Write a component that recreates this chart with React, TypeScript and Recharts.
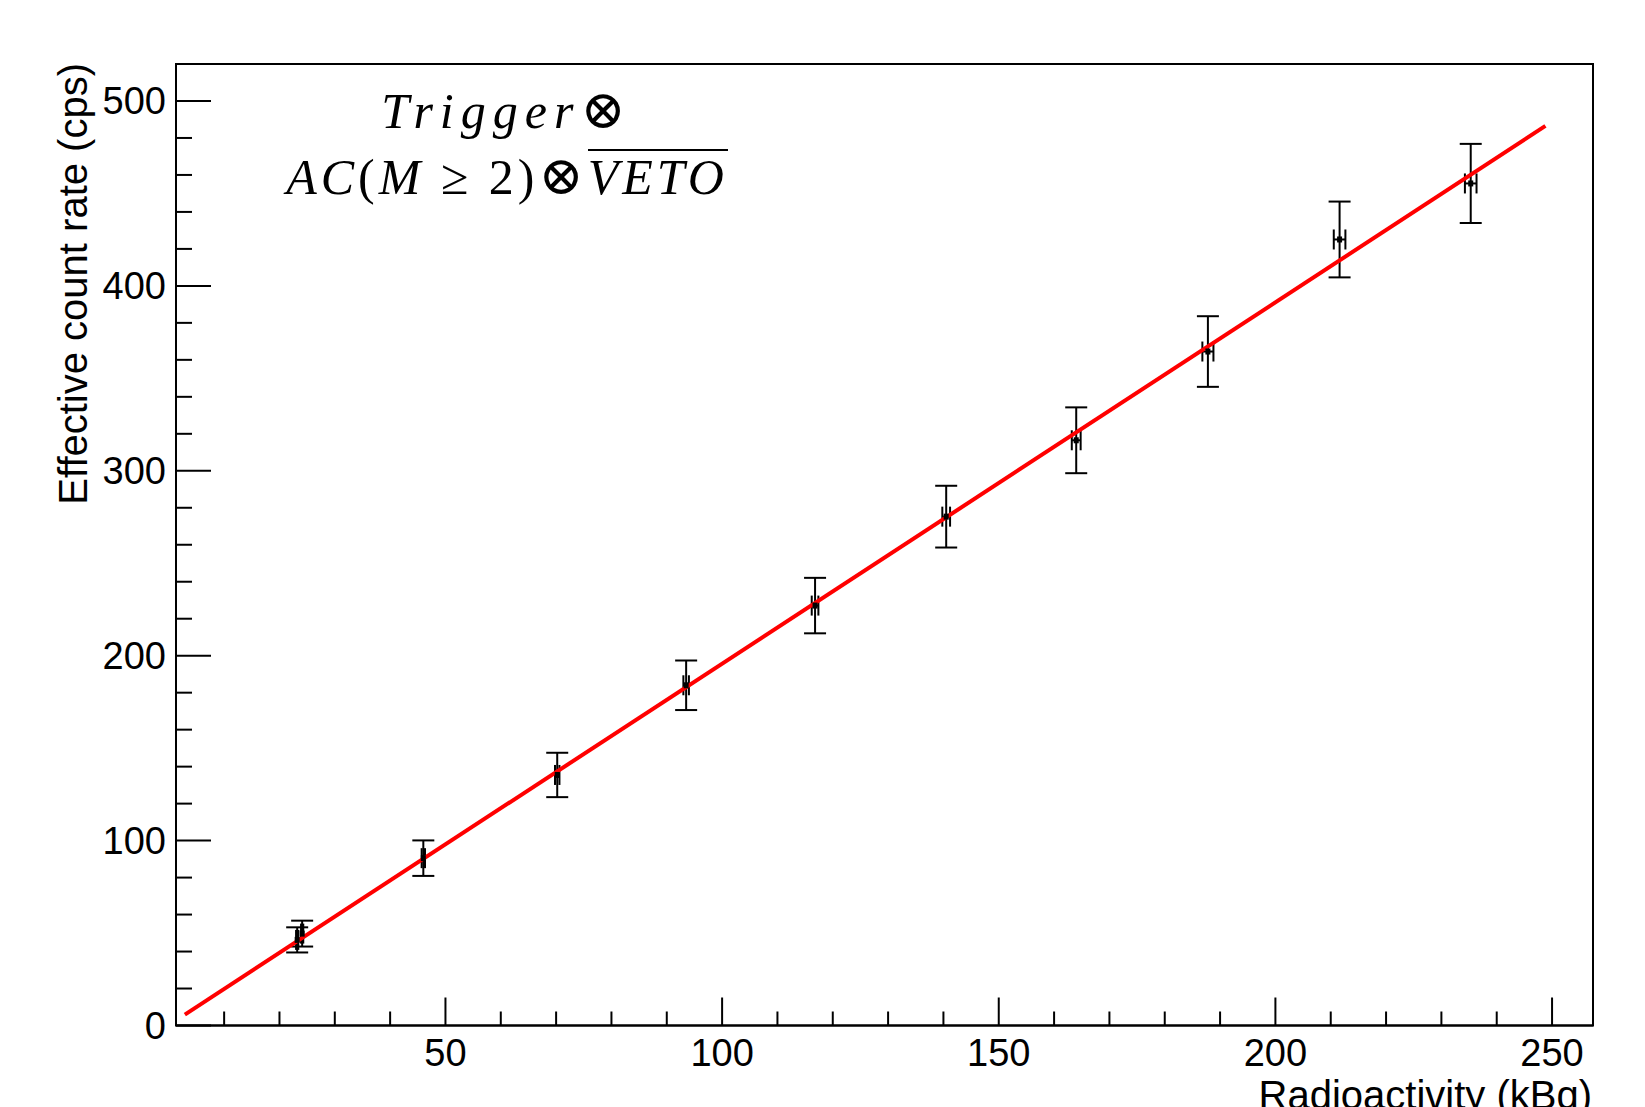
import React from "react";
import { ScatterChart, Scatter, XAxis, YAxis, ErrorBar, ReferenceArea, Label } from "recharts";

// measured points: activity (kBq), count rate (cps) and their errors
const activity = [23.2, 24.1, 46.0, 70.2, 93.5, 116.8, 140.5, 164.0, 187.8, 211.6, 235.3];
const rate = [46.3, 49.7, 90.5, 135.5, 184.0, 227.1, 275.2, 316.5, 364.5, 425.1, 455.4];
const rateErr = [6.8, 7.0, 9.6, 12.0, 13.4, 15.0, 16.7, 17.8, 19.1, 20.5, 21.4];
const activityErr = [0.2, 0.2, 0.3, 0.4, 0.5, 0.6, 0.7, 0.8, 1.0, 1.05, 1.05];

// linear fit end points
const fitX = [2.9, 248.8];
const fitY = [5.9, 486.5];

const xTicks = [10, 20, 30, 40, 50, 60, 70, 80, 90, 100, 110, 120, 130, 140, 150, 160, 170, 180, 190, 200, 210, 220, 230, 240, 250];
const xMajor = [50, 100, 150, 200, 250];
const yTicks = [0, 20, 40, 60, 80, 100, 120, 140, 160, 180, 200, 220, 240, 260, 280, 300, 320, 340, 360, 380, 400, 420, 440, 460, 480, 500];
const yMajor = [0, 100, 200, 300, 400, 500];

const points = activity.map((x, i) => ({ x, y: rate[i], ey: rateErr[i], ex: activityErr[i] }));
const fit = fitX.map((x, i) => ({ x, y: fitY[i] }));

const FONT = "'Liberation Sans', Arial, Helvetica, sans-serif";

function XTick(props: any) {
  const { x, y, payload } = props;
  const major = xMajor.includes(payload.value);
  return (
    <g>
      <line x1={x} y1={y} x2={x} y2={y - (major ? 28 : 14)} stroke="#000" strokeWidth={2} />
      {major && (
        <text x={x} y={y + 40} textAnchor="middle" fontSize={38} fontFamily={FONT} fill="#000">
          {payload.value}
        </text>
      )}
    </g>
  );
}

function YTick(props: any) {
  const { x, y, payload } = props;
  const major = yMajor.includes(payload.value);
  return (
    <g>
      <line x1={x} y1={y} x2={x + (major ? 35 : 16)} y2={y} stroke="#000" strokeWidth={2} />
      {major && (
        <text x={x - 10} y={y + 13.5} textAnchor="end" fontSize={38} fontFamily={FONT} fill="#000">
          {payload.value}
        </text>
      )}
    </g>
  );
}

const Dot = (props: any) => (
  <rect x={props.cx - 2.5} y={props.cy - 3} width={5} height={6} fill="#000" />
);

export default function App() {
  const mathStyle: React.CSSProperties = {
    fontFamily: "'Liberation Serif', 'DejaVu Serif', serif",
    fontStyle: "italic",
    fontSize: 50,
    lineHeight: "66px",
    color: "#000",
    whiteSpace: "nowrap",
  };
  const up: React.CSSProperties = { fontStyle: "normal" };
  return (
    <div style={{ position: "absolute", left: 0, top: 0, width: 1645, height: 1107, background: "#fff", overflow: "hidden" }}>
      <ScatterChart width={1645} height={1107} margin={{ top: 64, right: 52, bottom: 0, left: 0 }}>
        <XAxis
          type="number"
          dataKey="x"
          domain={[1.3, 257.4]}
          ticks={xTicks}
          allowDataOverflow
          height={81.5}
          tickLine={false}
          tickSize={0}
          tickMargin={0}
          tick={<XTick />}
          axisLine={{ stroke: "#000", strokeWidth: 2 }}
          interval={0}
        >
          <Label
            content={(p: any) => (
              <text
                x={p.viewBox.x + p.viewBox.width - 1}
                y={p.viewBox.y + 83}
                textAnchor="end"
                fontSize={40}
                fontFamily={FONT}
                fill="#000"
              >
                Radioactivity (kBq)
              </text>
            )}
          />
        </XAxis>
        <YAxis
          type="number"
          dataKey="y"
          domain={[0, 520]}
          ticks={yTicks}
          allowDataOverflow
          width={176}
          tickLine={false}
          tickSize={0}
          tickMargin={0}
          tick={<YTick />}
          axisLine={{ stroke: "#000", strokeWidth: 2 }}
          interval={0}
        >
          <Label
            content={() => (
              <text
                x={87}
                y={63}
                transform="rotate(-90, 87, 63)"
                textAnchor="end"
                fontSize={40}
                fontFamily={FONT}
                fill="#000"
              >
                Effective count rate (cps)
              </text>
            )}
          />
        </YAxis>
        <ReferenceArea x1={1.3} x2={257.4} y1={0} y2={520} fill="none" stroke="#000" strokeWidth={2} ifOverflow="visible" />
        <Scatter
          data={fit}
          line={{ stroke: "#ff0000", strokeWidth: 4 }}
          shape={() => <g />}
          isAnimationActive={false}
        />
        <Scatter data={points} shape={<Dot />} isAnimationActive={false}>
          <ErrorBar dataKey="ey" direction="y" width={11} stroke="#000" strokeWidth={2} isAnimationActive={false} />
          <ErrorBar dataKey="ex" direction="x" width={10} stroke="#000" strokeWidth={2} isAnimationActive={false} />
        </Scatter>
      </ScatterChart>
      <div style={{ ...mathStyle, position: "absolute", left: 0, width: 1014, top: 77, textAlign: "center", letterSpacing: 7 }}>
        Trigger<span style={{ ...up, fontSize: 54 }}>⊗</span>
      </div>
      <div style={{ ...mathStyle, position: "absolute", left: 0, width: 1014, top: 143, textAlign: "center", letterSpacing: 4 }}>
        AC<span style={up}>(</span>M<span style={up}>{" ≥ 2)"}</span>
        <span style={{ ...up, fontSize: 54 }}>⊗</span>
        <span style={{ display: "inline-block", lineHeight: "52px", borderTop: "2px solid #000" }}>VETO</span>
      </div>
    </div>
  );
}
